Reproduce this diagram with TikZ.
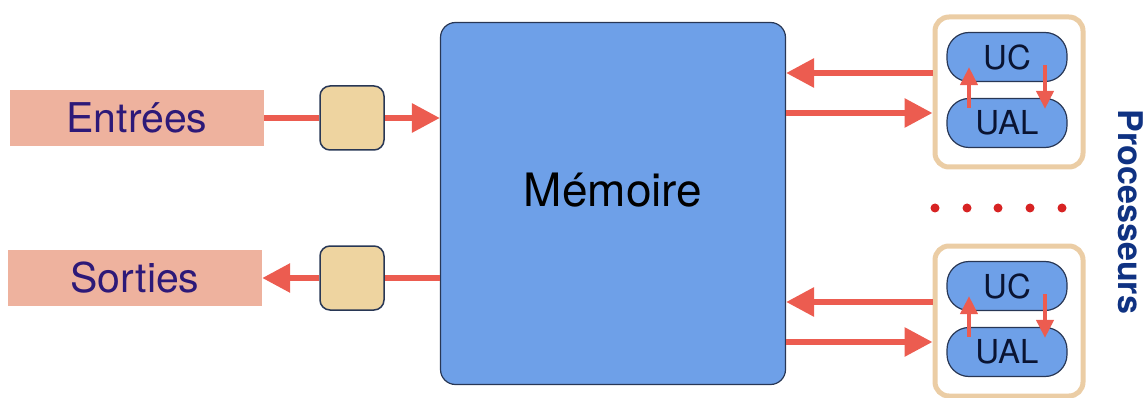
\documentclass[tikz,border=0pt]{standalone}
\usepackage{fontspec}
\setmainfont{TeX Gyre Heros}
\usetikzlibrary{arrows.meta}

\definecolor{archcolor0001}{RGB}{238,178,158}
\definecolor{archcolor0002}{RGB}{45,25,120}
\definecolor{archcolor0003}{RGB}{238,212,160}
\definecolor{archcolor0004}{RGB}{235,205,165}
\definecolor{archcolor0005}{RGB}{110,160,232}
\definecolor{archcolor0006}{RGB}{236,92,80}
\definecolor{archcolor0007}{RGB}{215,35,35}
\definecolor{archcolor0008}{RGB}{15,50,130}
\definecolor{archcolor0009}{RGB}{40,55,85}
\definecolor{archcolor0010}{RGB}{10,20,50}

\begin{document}
\begin{tikzpicture}[x=1pt,y=-1pt
,iobox/.style={fill=archcolor0001,minimum width=254pt,minimum height=56pt,inner sep=0pt,text=archcolor0002,font=\fontsize{41}{41}\selectfont}
,bufbox/.style={draw=archcolor0009,fill=archcolor0003,line width=1.5pt,rounded corners=10pt,minimum width=64pt,minimum height=64pt,inner sep=0pt}
,membox/.style={draw=archcolor0009,fill=archcolor0005,line width=1.2pt,rounded corners=15pt,minimum width=345pt,minimum height=362pt,inner sep=0pt}
,cpubox/.style={draw=archcolor0004,line width=5pt,rounded corners=14pt,minimum width=148pt,minimum height=150pt,inner sep=0pt}
,unitbox/.style={draw=archcolor0009,fill=archcolor0005,line width=1.2pt,rounded corners=22pt,minimum width=120pt,minimum height=49pt,inner sep=0pt,text=archcolor0010,font=\fontsize{33}{33}\selectfont}
,flow/.style={draw=archcolor0006,line width=6pt}
,flowhead/.style={flow,-{Triangle[length=28pt,width=28pt]}}
,cycle arrow/.style={draw=archcolor0006,line width=4pt,-{Triangle[length=18pt,width=17pt]}}
]
\useasboundingbox (0,0) rectangle (1148,398);
\node[iobox] (entrees) at (137,118) {Entrées};
\node[iobox] (sorties) at (135,278) {Sorties};
\node[bufbox] (bufin) at (352,118) {};
\node[bufbox] (bufout) at (352,278) {};
\node[membox,label={[yshift=13pt,font=\fontsize{46}{46}\selectfont]center:Mémoire}] (mem) at (613,203.5) {};
\draw[flow] (entrees.east) -- (bufin.west);
\draw[flowhead] (bufin.east) -- (bufin.east -| mem.west);
\draw[flow] (bufout.east -| mem.west) -- (bufout.east);
\draw[flowhead] (bufout.west) -- (sorties.east);
\foreach \i/\y in {1/92,2/321}{
  \node[cpubox] (cpu\i) at (1009,\y) {};
  \node[unitbox] (uc\i) at (1007,\y-35) {UC};
  \node[unitbox] (ual\i) at (1007,\y+31) {UAL};
  \draw[cycle arrow] ([xshift=-38pt,yshift=-10pt]ual\i.north) -- ([xshift=-38pt,yshift=15pt]uc\i.south);
  \draw[cycle arrow] ([xshift=38pt,yshift=17pt]uc\i.south) -- ([xshift=38pt,yshift=-11pt]ual\i.north);
  \draw[flowhead] ([yshift=19pt]cpu\i.west) -- ([yshift=19pt]cpu\i.west -| mem.east);
  \draw[flowhead] ([yshift=-21pt]cpu\i.west -| mem.east) -- ([yshift=-21pt]cpu\i.west);
}
\foreach \x in {935,967,998,1030,1062}
  \fill[archcolor0007] (\x,208) circle (4.5pt);
\node[rotate=-90,text=archcolor0008,font=\bfseries\fontsize{34}{34}\selectfont] (procs) at (1131,212) {Processeurs};
\end{tikzpicture}
\end{document}
